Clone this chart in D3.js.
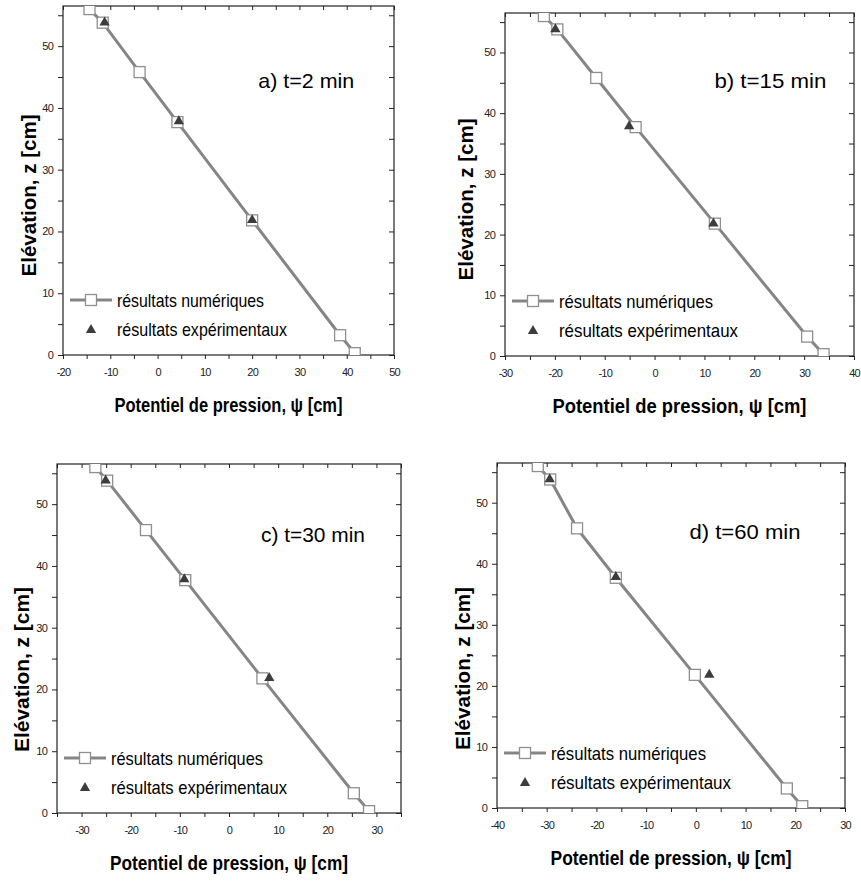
<!DOCTYPE html>
<html>
<head>
<meta charset="utf-8">
<script src="https://cdn.jsdelivr.net/npm/d3@7"></script>
<style>
  body { margin: 0; background: #fff; }
  svg { display: block; }
  .tick text { font-family: "Liberation Sans", Arial, sans-serif; font-size: 11px; fill: #222; letter-spacing: -0.8px; }
  .tick line { stroke: #222; }
  .txt { font-family: "Liberation Sans Narrow", "Liberation Sans", Arial, sans-serif; fill: #000; }
</style>
</head>
<body>
<svg id="chart" width="861" height="884"></svg>
<script>
// elevation of the simulation nodes and of the probes [cm]
const zNum = [56, 53.8, 45.8, 37.7, 21.8, 3.2, 0.3];
const zExp = [54, 38, 22];

// pressure head [cm]
const psiNumA = [-14.4, -11.6, -3.8, 4.2, 20.0, 38.6, 41.7];
const psiExpA = [-11.2, 4.5, 20.0];
const psiNumB = [-22.2, -19.5, -11.7, -3.8, 12.1, 30.6, 33.9];
const psiExpB = [-19.9, -5.1, 11.8];
const psiNumC = [-27.2, -24.8, -16.9, -8.9, 6.8, 25.4, 28.5];
const psiExpC = [-25.1, -9.1, 8.2];
const psiNumD = [-31.8, -29.3, -23.9, -16.1, -0.2, 18.3, 21.4];
const psiExpD = [-29.4, -16.1, 2.7];

const labels = ['a) t=2 min', 'b) t=15 min', 'c) t=30 min', 'd) t=60 min'];
const xDomains = [[-20, 50], [-30, 40], [-35, 35], [-40, 30]];
const yDomain = [0, 56.5];
const yMajor = [0, 10, 20, 30, 40, 50];
const legendNames = ['résultats numériques', 'résultats expérimentaux'];

const xTitle = 'Potentiel de pression, ψ [cm]';
const yTitle = 'Elévation, z [cm]';

// layout per panel
const boxes = [[63, 6, 394, 355], [505, 13, 854, 356], [57, 464, 401, 813], [497, 463, 845, 808]];
const labelPos = [[0.59, 0.235], [0.60, 0.22], [0.593, 0.223], [0.553, 0.219]];
const noteW = [96, 112, 104, 111];
const titleW = [228, 254, 238, 241];
const yTitleW = [162, 162, 165, 163];
const yTitleOff = [[-27, 15], [-32, 15], [-28, 31], [-27, 33]];
const legW = [[147, 170], [154, 179], [152, 176], [155, 180]];

const panels = [
  {num: psiNumA, exp: psiExpA},
  {num: psiNumB, exp: psiExpB},
  {num: psiNumC, exp: psiExpC},
  {num: psiNumD, exp: psiExpD}
];

const lineCol = '#858585';
const sqCol = '#8f8f8f';
const triCol = '#3c3c3c';
const svg = d3.select('#chart');
const tri = d3.symbol().type(d3.symbolTriangle).size(46);

panels.forEach((p, i) => {
  const [l, t, r, b] = boxes[i];
  const w = r - l, h = b - t;
  const g = svg.append('g').attr('transform', `translate(${l},${t})`);

  const x = d3.scaleLinear().domain(xDomains[i]).range([0, w]);
  const y = d3.scaleLinear().domain(yDomain).range([h, 0]);

  const [x0, x1] = xDomains[i];
  const xMajor = d3.range(Math.ceil(x0 / 10) * 10, x1 + 0.1, 10);
  const xMinor = d3.range(Math.ceil(x0 / 5) * 5, x1 + 0.1, 5).filter(v => v % 10 !== 0);
  const yMinor = d3.range(5, 56, 10);

  // bottom + left: outward ticks with labels
  g.append('g').attr('transform', `translate(0,${h})`)
    .call(d3.axisBottom(x).tickValues(xMajor).tickSize(4).tickPadding(9).tickFormat(d => String(d)))
    .call(a => a.select('.domain').remove());
  g.append('g').attr('transform', `translate(0,${h})`)
    .call(d3.axisBottom(x).tickValues(xMinor).tickSize(4).tickFormat(''))
    .call(a => a.select('.domain').remove());
  g.append('g')
    .call(d3.axisLeft(y).tickValues(yMajor).tickSize(5).tickPadding(5).tickFormat(d => String(d)))
    .call(a => a.select('.domain').remove());
  g.append('g')
    .call(d3.axisLeft(y).tickValues(yMinor).tickSize(5).tickFormat(''))
    .call(a => a.select('.domain').remove());

  // top + right: inward ticks
  g.append('g')
    .call(d3.axisTop(x).tickValues(xMajor.concat(xMinor)).tickSize(-4).tickFormat(''))
    .call(a => a.select('.domain').remove());
  g.append('g').attr('transform', `translate(${w},0)`)
    .call(d3.axisRight(y).tickValues(yMajor.concat(yMinor)).tickSize(-5).tickFormat(''))
    .call(a => a.select('.domain').remove());

  g.append('rect').attr('width', w).attr('height', h)
    .attr('fill', 'none').attr('stroke', '#222').attr('stroke-width', 1.2);

  const clipId = 'clip' + i;
  g.append('clipPath').attr('id', clipId)
    .append('rect').attr('width', w).attr('height', h);
  const plot = g.append('g').attr('clip-path', `url(#${clipId})`);

  const numPts = p.num.map((v, k) => [v, zNum[k]]);
  const expPts = p.exp.map((v, k) => [v, zExp[k]]);

  plot.append('path')
    .datum(numPts)
    .attr('fill', 'none')
    .attr('stroke', lineCol)
    .attr('stroke-width', 3)
    .attr('d', d3.line().x(d => x(d[0])).y(d => y(d[1])));

  plot.selectAll('rect.sq')
    .data(numPts)
    .enter()
    .append('rect')
    .classed('sq', true)
    .attr('x', d => x(d[0]) - 5.5)
    .attr('y', d => y(d[1]) - 5.5)
    .attr('width', 11).attr('height', 11)
    .attr('fill', '#fff')
    .attr('stroke', sqCol)
    .attr('stroke-width', 1.3);

  plot.selectAll('path.tri')
    .data(expPts)
    .enter()
    .append('path')
    .classed('tri', true)
    .attr('transform', d => `translate(${x(d[0])},${y(d[1]) + 1})`)
    .attr('d', tri)
    .attr('fill', triCol);

  // time label
  g.append('text').classed('txt', true)
    .attr('x', w * labelPos[i][0])
    .attr('y', h * labelPos[i][1])
    .attr('textLength', noteW[i])
    .attr('lengthAdjust', 'spacingAndGlyphs')
    .style('font-size', '21px')
    .text(labels[i]);

  // legend
  const lg = g.append('g').attr('transform', `translate(7,${h - 55})`);
  lg.append('line').attr('x1', 0).attr('x2', 42).attr('y1', 0).attr('y2', 0)
    .attr('stroke', lineCol).attr('stroke-width', 3);
  lg.append('rect').attr('x', 15.5).attr('y', -5.5).attr('width', 11).attr('height', 11)
    .attr('fill', '#fff').attr('stroke', sqCol).attr('stroke-width', 1.3);
  lg.append('path').attr('transform', 'translate(21,30)').attr('d', tri).attr('fill', triCol);
  lg.selectAll('text.leg')
    .data(legendNames)
    .enter()
    .append('text')
    .attr('class', 'leg txt')
    .attr('x', 47)
    .attr('y', (d, k) => 7 + k * 29)
    .attr('textLength', (d, k) => legW[i][k])
    .attr('lengthAdjust', 'spacingAndGlyphs')
    .style('font-size', '19px')
    .text(d => d);

  // axis titles
  g.append('text').classed('txt', true)
    .attr('x', w / 2).attr('y', h + 57)
    .attr('text-anchor', 'middle')
    .attr('textLength', titleW[i])
    .attr('lengthAdjust', 'spacingAndGlyphs')
    .style('font-size', '21px').style('font-weight', 'bold')
    .text(xTitle);

  g.append('text').classed('txt', true)
    .attr('transform', `translate(${yTitleOff[i][0]},${h / 2 + yTitleOff[i][1]}) rotate(-90)`)
    .attr('text-anchor', 'middle')
    .attr('textLength', yTitleW[i])
    .attr('lengthAdjust', 'spacingAndGlyphs')
    .style('font-size', '20px').style('font-weight', 'bold')
    .text(yTitle);
});
</script>
</body>
</html>
